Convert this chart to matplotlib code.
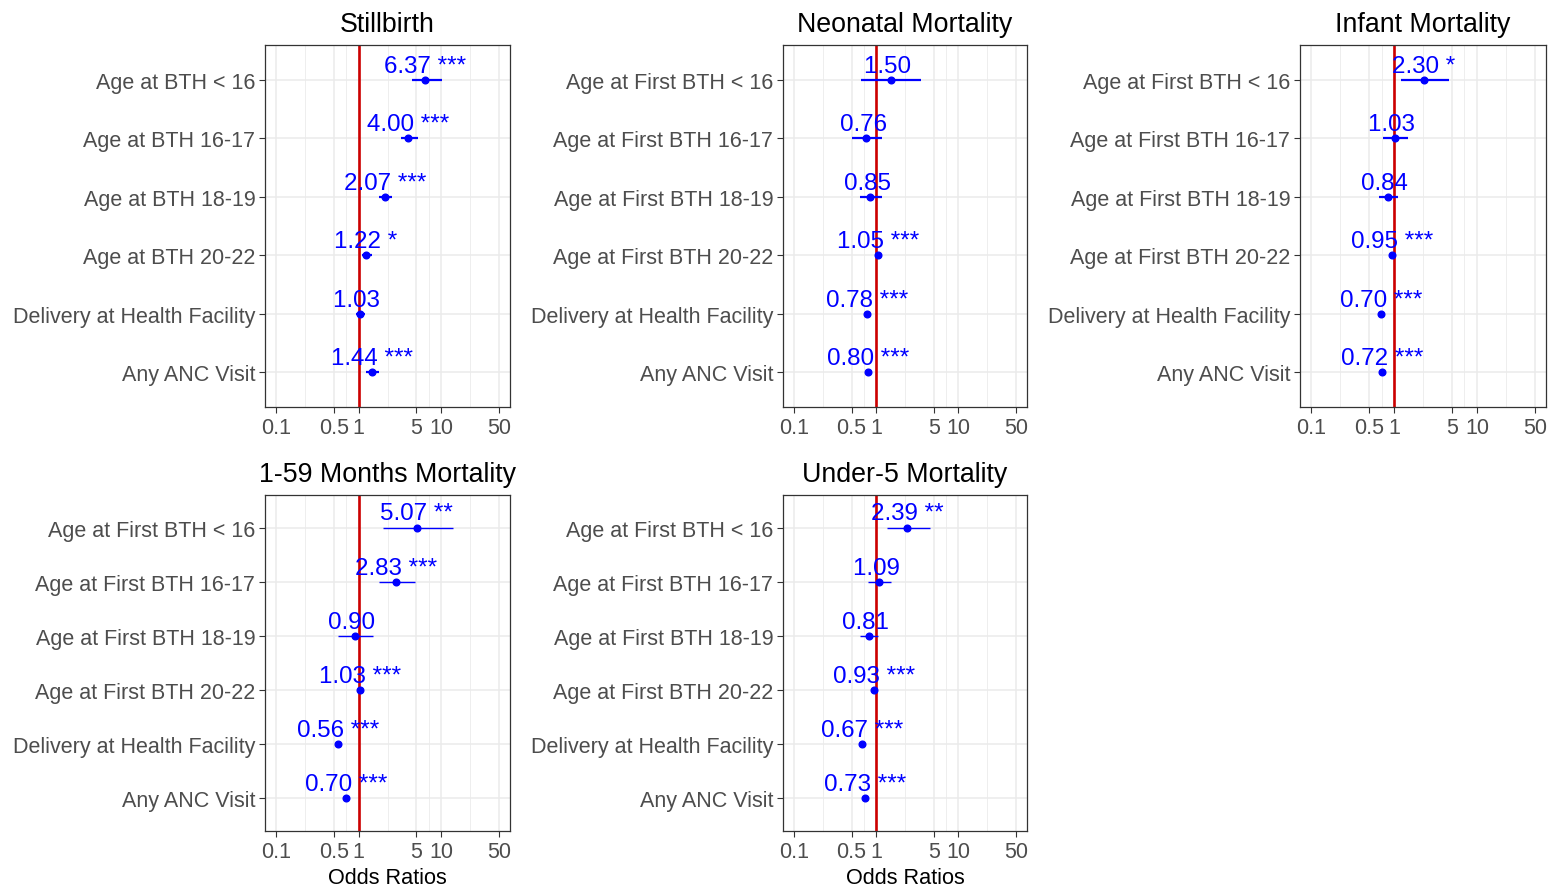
import matplotlib
matplotlib.use("Agg")
import matplotlib.pyplot as plt
import numpy as np

plt.rcParams['font.family'] = ['Liberation Sans', 'DejaVu Sans']

# ---------------- data ----------------
labels_sb = ["Age at BTH < 16", "Age at BTH 16-17", "Age at BTH 18-19",
             "Age at BTH 20-22", "Delivery at Health Facility", "Any ANC Visit"]
labels_first = ["Age at First BTH < 16", "Age at First BTH 16-17", "Age at First BTH 18-19",
                "Age at First BTH 20-22", "Delivery at Health Facility", "Any ANC Visit"]

titles = ["Stillbirth", "Neonatal Mortality", "Infant Mortality",
          "1-59 Months Mortality", "Under-5 Mortality"]

or_stillbirth = [6.37, 4.00, 2.07, 1.22, 1.03, 1.44]
lo_stillbirth = [4.46, 3.30, 1.76, 1.09, 0.93, 1.24]
hi_stillbirth = [10.2, 5.18, 2.56, 1.46, 1.21, 1.77]
sig_stillbirth = ["***", "***", "***", "*", "", "***"]

or_neonatal = [1.50, 0.76, 0.85, 1.05, 0.78, 0.80]
lo_neonatal = [0.66, 0.50, 0.63, 1.02, 0.76, 0.78]
hi_neonatal = [3.55, 1.19, 1.16, 1.08, 0.80, 0.82]
sig_neonatal = ["", "", "", "***", "***", "***"]

or_infant = [2.30, 1.03, 0.84, 0.95, 0.70, 0.72]
lo_infant = [1.23, 0.73, 0.66, 0.93, 0.68, 0.70]
hi_infant = [4.56, 1.48, 1.12, 0.97, 0.72, 0.74]
sig_infant = ["*", "", "", "***", "***", "***"]

or_1to59 = [5.07, 2.83, 0.90, 1.03, 0.56, 0.70]
lo_1to59 = [1.99, 1.74, 0.56, 1.00, 0.54, 0.68]
hi_1to59 = [14.0, 4.85, 1.51, 1.06, 0.58, 0.72]
sig_1to59 = ["**", "***", "", "***", "***", "***"]

or_under5 = [2.39, 1.09, 0.81, 0.93, 0.67, 0.73]
lo_under5 = [1.34, 0.80, 0.63, 0.91, 0.65, 0.71]
hi_under5 = [4.53, 1.51, 1.06, 0.95, 0.69, 0.75]
sig_under5 = ["**", "", "", "***", "***", "***"]

x_ticks = [0.1, 0.5, 1, 5, 10, 50]
x_ticklabels = ["0.1", "0.5", "1", "5", "10", "50"]

# ---------------- layout ----------------
W, H = 1553, 887
fig = plt.figure(figsize=(W / 100, H / 100), dpi=100)

def box(l, r, t, b):
    return [l / W, 1 - b / H, (r - l) / W, (b - t) / H]

panels = [
    (box(265, 510, 46, 408), titles[0], labels_sb, or_stillbirth, lo_stillbirth, hi_stillbirth, sig_stillbirth, 1.6, False),
    (box(783, 1027, 46, 408), titles[1], labels_first, or_neonatal, lo_neonatal, hi_neonatal, sig_neonatal, 1.6, False),
    (box(1300, 1546, 46, 408), titles[2], labels_first, or_infant, lo_infant, hi_infant, sig_infant, 1.6, False),
    (box(265, 510, 496, 832), titles[3], labels_first, or_1to59, lo_1to59, hi_1to59, sig_1to59, 1.0, True),
    (box(783, 1027, 496, 832), titles[4], labels_first, or_under5, lo_under5, hi_under5, sig_under5, 1.0, True),
]

lx = np.log10(0.1)
hx = np.log10(50)
pad = 0.05 * (hx - lx)
xlim = (10 ** (lx - pad), 10 ** (hx + pad))
minor = [np.sqrt(0.1 * 0.5), np.sqrt(0.5 * 1), np.sqrt(1 * 5), np.sqrt(5 * 10), np.sqrt(10 * 50)]

for rect, title, cats, est, lo, hi, sig, lw, xlab in panels:
    ax = fig.add_axes(rect)
    n = len(cats)
    ys = np.arange(n)[::-1] + 1  # first category at top
    ax.set_xscale('log')
    ax.set_xlim(*xlim)
    ax.set_ylim(0.4, n + 0.6)
    ax.set_xticks(x_ticks)
    ax.set_xticklabels(x_ticklabels)
    ax.set_xticks(minor, minor=True)
    ax.xaxis.set_minor_formatter(matplotlib.ticker.NullFormatter())
    ax.set_yticks(ys)
    ax.set_yticklabels(cats)
    ax.grid(True, which='major', color='#EBEBEB', lw=1.1, zorder=0)
    ax.grid(True, which='minor', axis='x', color='#EBEBEB', lw=0.6, zorder=0)
    ax.set_axisbelow(True)
    ax.tick_params(axis='both', which='major', length=4.5, width=0.8, color='#333333',
                   labelcolor='#4D4D4D', labelsize=15.5, pad=2.5)
    ax.tick_params(axis='x', which='minor', length=0)
    for s in ax.spines.values():
        s.set_color('#333333')
        s.set_linewidth(0.9)
    ax.axvline(1, color='#CC0000', lw=1.9, zorder=2)
    ax.hlines(ys, lo, hi, color='blue', lw=lw, zorder=3)
    ax.plot(est, ys, 'o', color='blue', ms=4.8, zorder=4)
    for e, y, s in zip(est, ys, sig):
        ax.annotate(f"{e:.2f} {s}", (e, y), xytext=(0, 5.8), textcoords='offset points',
                    ha='center', va='baseline', color='blue', fontsize=17.4, zorder=5)
    ax.set_title(title, fontsize=19.3, color='black', pad=10)
    if xlab:
        ax.set_xlabel("Odds Ratios", fontsize=15.6, color='black', labelpad=3.5)

fig.savefig("out.png", dpi=100)
